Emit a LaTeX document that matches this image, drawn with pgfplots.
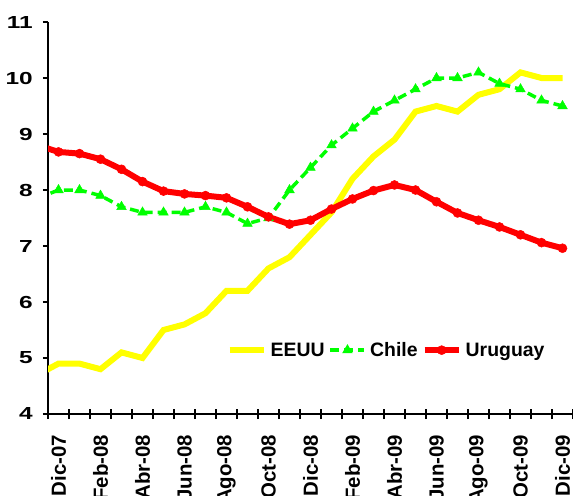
\documentclass[border=0pt]{standalone}
\usepackage{fontspec}
\setmainfont{Liberation Sans}
\newfontfamily\yfont{Liberation Sans}[FakeStretch=1.4]
\usepackage{pgfplots}
\pgfplotsset{compat=1.18}
\definecolor{cyel}{RGB}{255,255,0}
\definecolor{cgrn}{RGB}{0,255,0}
\definecolor{cred}{RGB}{255,0,0}
\begin{document}
\begin{tikzpicture}
\begin{axis}[
  anchor=south west, at={(0,0)},
  scale only axis, width=525bp, height=392bp,
  xmin=-0.5, xmax=24.5, ymin=4, ymax=11,
  axis x line=bottom, axis y line=left,
  axis line style={-, line width=2.5bp, black},
  xtick={0,2,...,24},
  xticklabels={Dic-07,Feb-08,Abr-08,Jun-08,Ago-08,Oct-08,Dic-08,Feb-09,Abr-09,Jun-09,Ago-09,Oct-09,Dic-09},
  minor xtick={-0.5,0.5,...,24.5},
  major x tick style={draw=none},
  minor x tick style={line width=2.5bp, black},
  major y tick style={line width=2.5bp, black},
  xtick align=center, ytick align=outside,
  major tick length=5bp, minor tick length=10bp,
  ytick={4,5,...,11},
  /pgf/number format/assume math mode=true,
  xticklabel style={rotate=90, anchor=east, inner sep=0pt, font=\fontsize{20.5}{21}\selectfont\bfseries},
  yticklabel style={anchor=east, inner sep=0pt, font=\fontsize{17.5}{17.5}\yfont\bfseries},
  xticklabel shift=18bp, yticklabel shift=10bp,
  legend columns=3,
  legend style={draw=none, fill=none, at={(axis cs:15.6,5.14)}, anchor=center,
    font=\fontsize{19.5}{20}\selectfont\bfseries, column sep=3bp, nodes={inner sep=1bp}},
  legend image code/.code={\draw[mark repeat=2, mark phase=2, #1] plot coordinates {(0bp,0bp) (17bp,0bp) (34bp,0bp)};},
]
\addplot[cyel, line width=6bp, no markers] coordinates {
(-1,4.7) (0,4.9) (1,4.9) (2,4.8) (3,5.1) (4,5.0) (5,5.5) (6,5.6) (7,5.8) (8,6.2) (9,6.2) (10,6.6) (11,6.8) (12,7.2) (13,7.6) (14,8.2) (15,8.6) (16,8.9) (17,9.4) (18,9.5) (19,9.4) (20,9.7) (21,9.8) (22,10.1) (23,10.0) (24,10.0)};
\addlegendentry{EEUU}
\addplot[cgrn, line width=3.5bp, dash pattern=on 9bp off 5bp, mark=triangle*, mark size=5.5bp, mark options={solid, fill=cgrn, line width=0.5bp}] coordinates {
(-1,7.85) (0,8.0) (1,8.0) (2,7.9) (3,7.7) (4,7.6) (5,7.6) (6,7.6) (7,7.7) (8,7.6) (9,7.4) (10,7.5) (11,8.0) (12,8.4) (13,8.8) (14,9.1) (15,9.4) (16,9.6) (17,9.8) (18,10.0) (19,10.0) (20,10.1) (21,9.9) (22,9.8) (23,9.6) (24,9.5)};
\addlegendentry{Chile}
\addplot[cred, line width=6bp, mark=*, mark size=4.5bp, mark options={solid, fill=cred, line width=0.5bp}] coordinates {
(-1,8.80) (0,8.68) (1,8.65) (2,8.55) (3,8.37) (4,8.15) (5,7.98) (6,7.93) (7,7.90) (8,7.86) (9,7.70) (10,7.52) (11,7.39) (12,7.46) (13,7.66) (14,7.84) (15,7.99) (16,8.09) (17,8.00) (18,7.79) (19,7.59) (20,7.46) (21,7.34) (22,7.20) (23,7.06) (24,6.96)};
\addlegendentry{Uruguay}
\end{axis}
\pgfresetboundingbox
\useasboundingbox (-48bp,-82bp) rectangle (525bp,414bp);
\end{tikzpicture}
\end{document}
